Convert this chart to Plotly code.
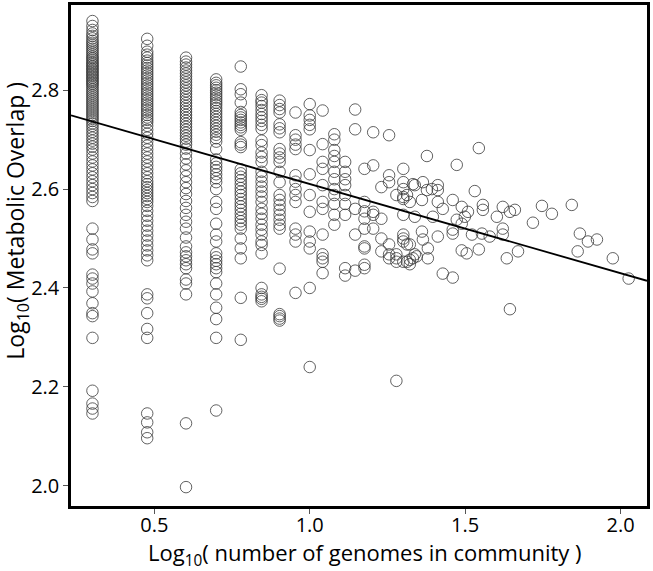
import numpy as np
import plotly.graph_objects as go

# ---- data (y = log10 metabolic overlap) ----
# columns with a fixed number of genomes (x = log10(n))
Y_N2 = [2.940, 2.930, 2.922, 2.915, 2.910, 2.905, 2.900, 2.896, 2.892, 2.888, 2.884, 2.880,
        2.876, 2.872, 2.868, 2.865, 2.862, 2.858, 2.855, 2.852, 2.849, 2.846, 2.843, 2.840,
        2.837, 2.834, 2.831, 2.828, 2.825, 2.822, 2.819, 2.816, 2.813, 2.810, 2.806, 2.802,
        2.798, 2.794, 2.790, 2.786, 2.782, 2.778, 2.774, 2.770, 2.766, 2.762, 2.758, 2.754,
        2.750, 2.746, 2.742, 2.738, 2.733, 2.728, 2.722, 2.716, 2.710, 2.704, 2.698, 2.692,
        2.686, 2.680, 2.672, 2.664, 2.656, 2.648, 2.640, 2.632, 2.624, 2.616, 2.608, 2.600,
        2.592, 2.584, 2.576, 2.520, 2.498, 2.478, 2.470, 2.427, 2.419, 2.409, 2.393, 2.369,
        2.349, 2.343, 2.299, 2.192, 2.166, 2.156, 2.146]
Y_N3 = [2.904, 2.890, 2.878, 2.872, 2.866, 2.860, 2.855, 2.850, 2.845, 2.840, 2.835, 2.830,
        2.825, 2.820, 2.815, 2.810, 2.805, 2.800, 2.795, 2.790, 2.785, 2.780, 2.775, 2.770,
        2.765, 2.760, 2.755, 2.750, 2.745, 2.740, 2.735, 2.728, 2.720, 2.712, 2.704, 2.696,
        2.688, 2.680, 2.672, 2.664, 2.656, 2.648, 2.640, 2.632, 2.624, 2.616, 2.610, 2.604,
        2.598, 2.592, 2.586, 2.580, 2.574, 2.566, 2.556, 2.546, 2.536, 2.526, 2.516, 2.506,
        2.496, 2.486, 2.476, 2.466, 2.456, 2.387, 2.379, 2.349, 2.317, 2.299, 2.146, 2.128,
        2.108, 2.096]
Y_N4 = [2.866, 2.858, 2.852, 2.846, 2.840, 2.834, 2.828, 2.822, 2.816, 2.810, 2.804, 2.798,
        2.792, 2.786, 2.780, 2.774, 2.768, 2.762, 2.756, 2.750, 2.744, 2.738, 2.732, 2.726,
        2.720, 2.714, 2.708, 2.702, 2.696, 2.690, 2.682, 2.672, 2.662, 2.650, 2.638, 2.626,
        2.614, 2.602, 2.590, 2.576, 2.562, 2.548, 2.534, 2.520, 2.502, 2.484, 2.472, 2.464,
        2.456, 2.448, 2.440, 2.417, 2.409, 2.387, 2.126, 1.997]
Y_N5 = [2.822, 2.815, 2.810, 2.805, 2.800, 2.795, 2.790, 2.785, 2.780, 2.775, 2.770, 2.764,
        2.758, 2.752, 2.746, 2.740, 2.734, 2.728, 2.722, 2.716, 2.710, 2.703, 2.696, 2.681,
        2.660, 2.652, 2.645, 2.638, 2.630, 2.622, 2.614, 2.600, 2.574, 2.560, 2.530, 2.508,
        2.494, 2.470, 2.462, 2.455, 2.448, 2.440, 2.432, 2.409, 2.387, 2.360, 2.337, 2.299,
        2.152]
Y_N6 = [2.848, 2.802, 2.792, 2.775, 2.756, 2.750, 2.745, 2.740, 2.735, 2.730, 2.725, 2.720,
        2.695, 2.690, 2.685, 2.640, 2.632, 2.625, 2.618, 2.610, 2.602, 2.595, 2.588, 2.580,
        2.572, 2.565, 2.558, 2.550, 2.542, 2.535, 2.528, 2.520, 2.500, 2.480, 2.460, 2.380,
        2.295]
Y_N7 = [2.790, 2.780, 2.775, 2.768, 2.760, 2.752, 2.745, 2.738, 2.730, 2.722, 2.698, 2.689,
        2.674, 2.665, 2.655, 2.635, 2.625, 2.615, 2.605, 2.595, 2.585, 2.574, 2.560, 2.550,
        2.540, 2.528, 2.518, 2.508, 2.494, 2.487, 2.470, 2.400, 2.387, 2.382, 2.378, 2.373]
Y_N8 = [2.779, 2.770, 2.762, 2.755, 2.731, 2.723, 2.715, 2.681, 2.672, 2.664, 2.655, 2.635,
        2.614, 2.588, 2.578, 2.568, 2.558, 2.548, 2.538, 2.528, 2.520, 2.439, 2.347, 2.343,
        2.338, 2.334]
Y_N9 = [2.755, 2.709, 2.700, 2.690, 2.681, 2.628, 2.615, 2.600, 2.588, 2.574, 2.520, 2.508,
        2.494, 2.390]
Y_N10 = [2.772, 2.749, 2.740, 2.730, 2.721, 2.679, 2.630, 2.588, 2.554, 2.514, 2.494, 2.480,
         2.400, 2.240]
Y_N11 = [2.759, 2.691, 2.655, 2.641, 2.608, 2.574, 2.560, 2.508, 2.468, 2.460, 2.453, 2.430]
Y_N12 = [2.711, 2.700, 2.679, 2.667, 2.655, 2.635, 2.620, 2.600, 2.588, 2.570, 2.548, 2.528]
Y_N13 = [2.655, 2.635, 2.620, 2.608, 2.588, 2.570, 2.548, 2.440, 2.425]
Y_N14 = [2.761, 2.721, 2.560, 2.508, 2.435]
Y_N15 = [2.641, 2.574, 2.555, 2.540, 2.520, 2.484, 2.480, 2.447, 2.440]
Y_N16 = [2.715, 2.648, 2.554, 2.548, 2.520]
Y_N17 = [2.604, 2.540, 2.500, 2.474]
Y_N18 = [2.709, 2.628, 2.614, 2.488, 2.468, 2.460]
Y_N19 = [2.588, 2.468, 2.460, 2.453, 2.212]
Y_N20 = [2.641, 2.614, 2.600, 2.584, 2.580, 2.548, 2.508, 2.500, 2.494, 2.453]

GENOME_COUNTS = list(range(2, 21))
COLUMN_VALUES = [Y_N2, Y_N3, Y_N4, Y_N5, Y_N6, Y_N7, Y_N8, Y_N9, Y_N10, Y_N11, Y_N12,
                 Y_N13, Y_N14, Y_N15, Y_N16, Y_N17, Y_N18, Y_N19, Y_N20]

# larger communities (x already in log10 units)
LARGE_X = [1.377, 1.473, 1.544, 1.338, 1.364, 1.377, 1.412, 1.412, 1.322, 1.361, 1.412,
           1.428, 1.460, 1.489, 1.531, 1.557, 1.557, 1.509, 1.499, 1.473, 1.489, 1.338,
           1.396, 1.460, 1.522, 1.554, 1.579, 1.602, 1.621, 1.621, 1.621, 1.644, 1.660,
           1.718, 1.747, 1.779, 1.843, 1.869, 1.895, 1.924, 1.862, 1.975, 2.026, 1.644,
           1.670, 1.634, 1.489, 1.505, 1.544, 1.428, 1.460, 1.412, 1.361, 1.322, 1.338,
           1.322, 1.380, 1.380, 1.364, 1.393, 1.313, 1.332, 1.313, 1.332, 1.313, 1.344,
           1.322, 1.460]
LARGE_Y = [2.667, 2.649, 2.683, 2.608, 2.614, 2.598, 2.608, 2.598, 2.574, 2.578, 2.574,
           2.560, 2.578, 2.564, 2.596, 2.568, 2.558, 2.554, 2.544, 2.538, 2.530, 2.544,
           2.544, 2.510, 2.508, 2.510, 2.504, 2.544, 2.564, 2.520, 2.508, 2.554, 2.558,
           2.532, 2.566, 2.550, 2.568, 2.510, 2.494, 2.498, 2.474, 2.460, 2.419, 2.357,
           2.474, 2.460, 2.476, 2.470, 2.478, 2.429, 2.421, 2.504, 2.514, 2.488, 2.468,
           2.448, 2.480, 2.460, 2.498, 2.600, 2.588, 2.610, 2.488, 2.460, 2.453, 2.464,
           2.457, 2.518]

# fitted regression line
FIT_INTERCEPT = 2.791
FIT_SLOPE = -0.1806

X_RANGE = [0.232, 2.085]
Y_RANGE = [1.9588, 2.9725]
X_TICKS = [0.5, 1.0, 1.5, 2.0]
X_TICK_TEXT = ["0.5", "1.0", "1.5", "2.0"]
Y_TICKS = [2.0, 2.2, 2.4, 2.6, 2.8]
Y_TICK_TEXT = ["2.0", "2.2", "2.4", "2.6", "2.8"]

# ---- assemble ----
xs, ys = [], []
for n, vals in zip(GENOME_COUNTS, COLUMN_VALUES):
    xs += [np.log10(n)] * len(vals)
    ys += vals
xs += LARGE_X
ys += LARGE_Y

FONT = "Open Sans, Liberation Sans, sans-serif"

fig = go.Figure()
fig.add_trace(go.Scatter(
    x=xs, y=ys, mode="markers",
    marker=dict(symbol="circle-open", size=11.5, color="#3a3a3a", line=dict(width=0.8)),
    showlegend=False, hoverinfo="x+y"))

line_x = np.array(X_RANGE)
fig.add_trace(go.Scatter(
    x=line_x, y=FIT_INTERCEPT + FIT_SLOPE * line_x, mode="lines",
    line=dict(color="black", width=1.8), showlegend=False, hoverinfo="skip"))

axis_common = dict(showgrid=False, zeroline=False, showline=True, mirror=True,
                   linecolor="black", linewidth=2.5, ticks="outside", ticklen=5,
                   tickwidth=1, tickcolor="#555555",
                   tickfont=dict(family=FONT, size=20, color="black"))

fig.update_xaxes(range=X_RANGE, tickvals=X_TICKS, ticktext=X_TICK_TEXT,
                 ticklabelstandoff=-6, **axis_common)
fig.update_yaxes(range=Y_RANGE, tickvals=Y_TICKS, ticktext=Y_TICK_TEXT, **axis_common)

fig.add_annotation(text="Log<sub>10</sub>( number of genomes in community )",
                   xref="paper", yref="paper", x=0.51, y=-0.059,
                   xanchor="center", yanchor="top", showarrow=False, borderpad=0,
                   font=dict(family=FONT, size=22, color="black"))
fig.add_annotation(text="Log<sub>10</sub>( Metabolic Overlap )",
                   xref="paper", yref="paper", x=-0.095, y=0.57,
                   xanchor="center", yanchor="middle", textangle=-90, showarrow=False,
                   font=dict(family=FONT, size=23, color="black"))

fig.update_layout(width=653, height=571, margin=dict(l=71, r=6, t=2, b=65),
                  plot_bgcolor="white", paper_bgcolor="white",
                  font=dict(family=FONT, color="black"))

fig.write_html("out.html", config={"displayModeBar": False},
               post_script="document.body.style.margin='0';")
